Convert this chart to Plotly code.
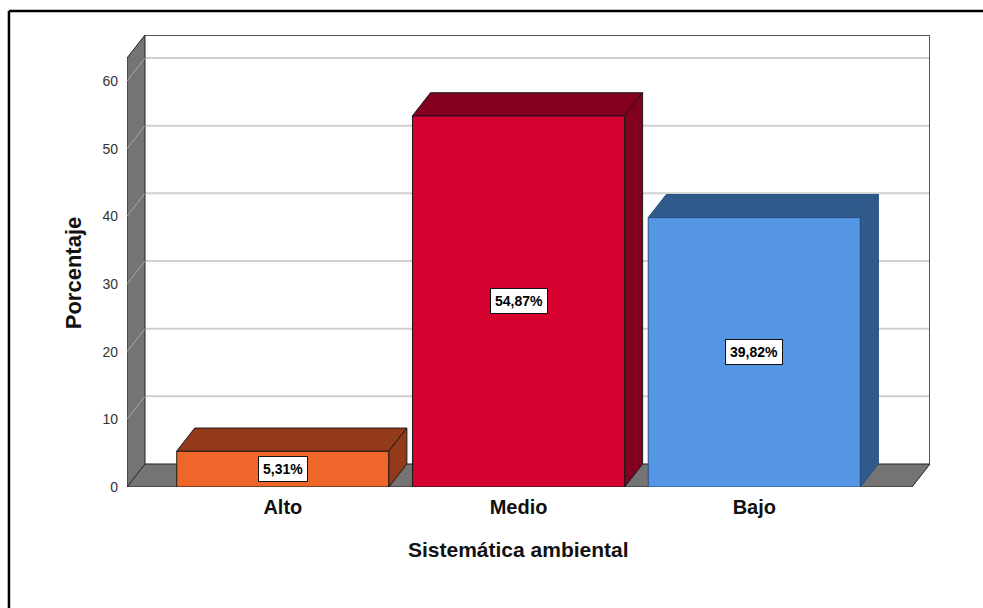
import plotly.graph_objects as go

# ---- data ----
categories = ["Alto", "Medio", "Bajo"]
percent = [5.31, 54.87, 39.82]
bar_labels = ["5,31%", "54,87%", "39,82%"]
y_ticks = [0, 10, 20, 30, 40, 50, 60]
front_colors = ["#EE662A", "#D5002F", "#5495E4"]
dark_colors = ["#933A1A", "#82001E", "#305A8C"]
edge_colors = ["#1a1a1a", "#1a1a1a", "#2A4F80"]

# ---- 3D geometry (style) ----
XL, XR = -0.661, 2.669     # front floor extent in category units
DX, DY = 0.0763, 3.4       # depth offset (x units, y units)
H = 63.4                   # wall height
W = 0.45                   # half bar width

fig = go.Figure()

def poly(xs, ys, fill, line_color, lw=1):
    fig.add_trace(go.Scatter(x=xs + [xs[0]], y=ys + [ys[0]], mode="lines", fill="toself",
                             fillcolor=fill, line=dict(color=line_color, width=lw),
                             hoverinfo="skip", showlegend=False, cliponaxis=False))

def segs(pairs, color, lw):
    xs, ys = [], []
    for (x0, y0, x1, y1) in pairs:
        xs += [x0, x1, None]
        ys += [y0, y1, None]
    fig.add_trace(go.Scatter(x=xs, y=ys, mode="lines", line=dict(color=color, width=lw),
                             hoverinfo="skip", showlegend=False, cliponaxis=False))

# back wall gridlines
segs([(XL + DX, v + DY, XR + DX, v + DY) for v in y_ticks[1:]], "#D0D0D0", 2)
# left wall
poly([XL, XL + DX, XL + DX, XL], [0, DY, H + DY, H], "#747474", "#222222", 1)
segs([(XL, v, XL + DX, v + DY) for v in y_ticks], "#A8A8A8", 1)
# floor
poly([XL, XR, XR + DX, XL + DX], [0, 0, DY, DY], "#747474", "#222222", 1)
# back wall outline
segs([(XL + DX, H + DY, XR + DX, H + DY), (XR + DX, H + DY, XR + DX, DY)], "#555555", 2)

# bars
for i, v in enumerate(percent):
    x0, x1 = i - W, i + W
    poly([x0, x1, x1, x0], [0, 0, v, v], front_colors[i], edge_colors[i], 1)
    poly([x0, x1, x1 + DX, x0 + DX], [v, v, v + DY, v + DY], dark_colors[i], edge_colors[i], 1)
    poly([x1, x1 + DX, x1 + DX, x1], [0, DY, v + DY, v], dark_colors[i], edge_colors[i], 1)
    fig.add_annotation(x=i, y=v / 2, text="<b>%s</b>" % bar_labels[i], showarrow=False,
                       font=dict(family="Liberation Sans, Arial", size=14, color="black"),
                       bgcolor="white", bordercolor="#111111", borderwidth=1, borderpad=4)

# axis titles
fig.add_annotation(xref="paper", yref="paper", x=0.4875, y=-0.139, text="<b>Sistemática ambiental</b>",
                   showarrow=False, font=dict(size=21, color="#111111"), xanchor="center", yanchor="middle")
fig.add_annotation(xref="paper", yref="paper", x=-0.0672, y=0.473, text="<b>Porcentaje</b>",
                   textangle=-90, showarrow=False, font=dict(size=22, color="#111111"),
                   xanchor="center", yanchor="middle")

# outer frame (left and top edges only visible)
fig.add_shape(type="line", xref="paper", yref="paper", x0=-0.147, x1=-0.147, y0=-0.6, y1=1.053,
              line=dict(color="black", width=2.5), layer="below")
fig.add_shape(type="line", xref="paper", yref="paper", x0=-0.147, x1=1.3, y0=1.053, y1=1.053,
              line=dict(color="black", width=2.5), layer="below")

fig.update_layout(
    width=983, height=608,
    margin=dict(l=127, r=53, t=35, b=121),
    paper_bgcolor="white", plot_bgcolor="white",
    showlegend=False,
    font=dict(family="Liberation Sans, Arial", color="#222222"),
    xaxis=dict(range=[XL, XR + DX], tickvals=[0, 1, 2],
               ticktext=["<b>%s</b>" % c for c in categories],
               showgrid=False, zeroline=False, showline=False, ticks="", ticklabelstandoff=6,
               tickfont=dict(size=20, color="#111111"), fixedrange=True),
    yaxis=dict(range=[0, H + DY], tickvals=y_ticks, showgrid=False, zeroline=False,
               showline=False, ticks="", ticklabelstandoff=8,
               tickfont=dict(size=14, color="#333333"), fixedrange=True),
)

fig.write_html("out.html", config={"displayModeBar": False},
               post_script="document.body.style.margin='0px';document.body.style.overflow='hidden';")
